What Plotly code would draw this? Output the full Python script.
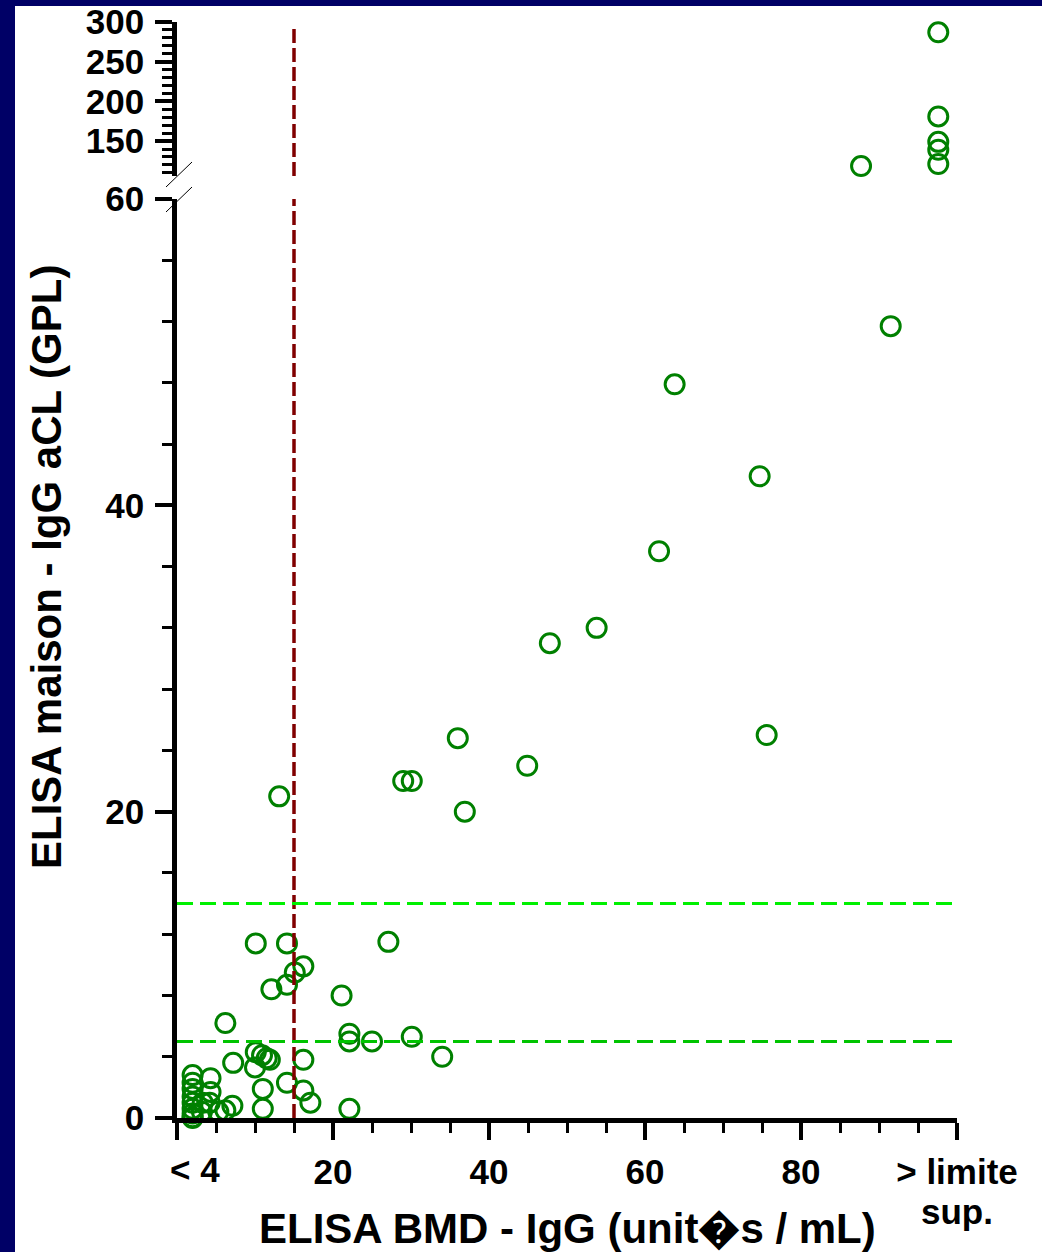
import plotly.graph_objects as go

# ---------------- data ----------------
low_x = [2, 2, 2, 2, 2, 2, 2, 2, 2, 3.3, 3.2, 4.3, 4.3, 4.2, 5.3, 6.2, 7.1,
         6.2, 7.2, 10.1, 10.9, 11.5, 11.9, 10.0, 11.0, 11.0, 14.1, 16.2, 16.2, 17.1,
         10.1, 14.1, 16.2, 15.1, 14.1, 12.1, 21.1,
         22.1, 22.1, 25.0, 30.1, 34.0, 22.1, 27.1,
         13.1, 29.0, 30.1, 36.0, 36.9, 44.9, 47.8, 53.8, 61.8, 63.8, 74.7, 75.6, 91.5]
low_y = [2.8, 2.3, 1.9, 1.4, 1.0, 0.6, 0.3, 0.05, 0.0, 1.0, 0.4, 2.6, 1.7, 1.0, 0.4, 0.5, 0.8,
         6.2, 3.6, 4.3, 4.1, 3.9, 3.8, 3.3, 1.9, 0.6, 2.3, 3.8, 1.8, 1.0,
         11.4, 11.4, 9.9, 9.5, 8.7, 8.4, 8.0,
         5.5, 5.0, 5.0, 5.3, 4.0, 0.6, 11.5,
         21.0, 22.0, 22.0, 24.8, 20.0, 23.0, 31.0, 32.0, 37.0, 47.9, 41.9, 25.0, 51.7]

high_x = [87.7, 97.6, 97.6, 97.6, 97.6, 97.6]
high_y = [118.5, 287, 181, 149, 139, 121]

x_tickvals = [0, 20, 40, 60, 80, 100]
x_ticktext = ["", "20", "40", "60", "80", "> limite"]
last_label_line2 = "sup."
low_tickvals = [0, 20, 40, 60]
high_tickvals = [150, 200, 250, 300]

cutoff_x = 15
cutoff_y = [14, 5]

x_title = "ELISA BMD - IgG (unit\ufffds / mL)"
y_title = "ELISA maison - IgG aCL (GPL)"
first_label = "< 4"

# ---------------- layout helpers ----------------
W, H = 1042, 1252
L, R, T, B = 177, 957, 22, 1118


def pxx(p):
    return (p - L) / (R - L)


def pxy(p):
    return (B - p) / (B - T)


FONT = "Liberation Sans, Arial, Helvetica, sans-serif"
NAVY = "#000066"
GREEN = "#008000"
DARKRED = "#800000"

fig = go.Figure()
marker = dict(symbol="circle-open", size=19, color=GREEN, line=dict(width=3, color=GREEN))
fig.add_trace(go.Scatter(x=low_x, y=low_y, mode="markers", marker=marker,
                         xaxis="x", yaxis="y", cliponaxis=False, showlegend=False))
fig.add_trace(go.Scatter(x=high_x, y=high_y, mode="markers", marker=marker,
                         xaxis="x", yaxis="y2", cliponaxis=False, showlegend=False))

axis_common = dict(showgrid=False, zeroline=False, showline=True, linecolor="black",
                   linewidth=4.5, ticks="outside", ticklen=17, tickwidth=3.5,
                   tickcolor="black", automargin=False,
                   tickfont=dict(family=FONT, size=35, color="black", weight="bold"))

shapes = []
# vertical cutoff (drawn per segment)
shapes.append(dict(type="line", xref="x", yref="y", x0=cutoff_x, x1=cutoff_x, y0=0, y1=60,
                   line=dict(color=DARKRED, width=3.5, dash="14px,5px")))
shapes.append(dict(type="line", xref="x", yref="y2", x0=cutoff_x, x1=cutoff_x, y0=106, y1=294,
                   line=dict(color=DARKRED, width=3.5, dash="14px,5px")))
# horizontal cutoffs
shapes.append(dict(type="line", xref="x", yref="y", x0=0, x1=100, y0=cutoff_y[0], y1=cutoff_y[0],
                   line=dict(color="#00F000", width=3, dash="16px,7px")))
shapes.append(dict(type="line", xref="x", yref="y", x0=0, x1=100, y0=cutoff_y[1], y1=cutoff_y[1],
                   line=dict(color="#00C400", width=3, dash="16px,7px")))
# break marks
for (x0, y0, x1, y1) in [(166, 187, 192, 162), (166, 212, 192, 187)]:
    shapes.append(dict(type="line", xref="paper", yref="paper",
                       x0=pxx(x0), y0=pxy(y0), x1=pxx(x1), y1=pxy(y1),
                       line=dict(color="black", width=1)))
# navy frame strips
shapes.append(dict(type="rect", xref="paper", yref="paper", x0=pxx(0), x1=pxx(15),
                   y0=pxy(H), y1=pxy(0), fillcolor=NAVY, line=dict(width=0)))
shapes.append(dict(type="rect", xref="paper", yref="paper", x0=pxx(0), x1=pxx(W),
                   y0=pxy(6), y1=pxy(0), fillcolor=NAVY, line=dict(width=0)))

annotations = [
    dict(text=y_title, xref="paper", yref="paper", x=pxx(46), y=pxy(567), textangle=-90,
         showarrow=False, xanchor="center", yanchor="middle",
         font=dict(family=FONT, size=42, color="black", weight="bold")),
    dict(text=x_title, xref="paper", yref="paper", x=pxx(567), y=pxy(1228),
         showarrow=False, xanchor="center", yanchor="middle",
         font=dict(family=FONT, size=42, color="black", weight="bold")),
    dict(text=first_label, xref="x", yref="paper", x=2.3, y=pxy(1170),
         showarrow=False, xanchor="center", yanchor="middle",
         font=dict(family=FONT, size=35, color="black", weight="bold")),
    dict(text=last_label_line2, xref="x", yref="paper", x=100, y=pxy(1211),
         showarrow=False, xanchor="center", yanchor="middle",
         font=dict(family=FONT, size=35, color="black", weight="bold")),
]

fig.update_layout(
    width=W, height=H,
    margin=dict(l=L, r=W - R, t=T, b=H - B, pad=0, autoexpand=False),
    paper_bgcolor="white", plot_bgcolor="white",
    showlegend=False,
    xaxis=dict(range=[0, 100], tickvals=x_tickvals, ticktext=x_ticktext,
               ticklabelstandoff=2,
               minor=dict(dtick=5, tick0=0, ticks="outside", ticklen=10, tickwidth=2.5,
                          tickcolor="black"),
               anchor="y", **axis_common),
    yaxis=dict(range=[0, 60], domain=[0, pxy(199)], tickvals=low_tickvals,
               ticklabelstandoff=4,
               minor=dict(dtick=4, tick0=0, ticks="outside", ticklen=10, tickwidth=2.5,
                          tickcolor="black"),
               anchor="x", **axis_common),
    yaxis2=dict(range=[106, 300], domain=[pxy(176), 1], tickvals=high_tickvals,
                ticklabelstandoff=4,
                minor=dict(dtick=10, tick0=0, ticks="outside", ticklen=10, tickwidth=2.5,
                           tickcolor="black"),
                anchor="x", **axis_common),
    shapes=shapes,
    annotations=annotations,
)

fig.write_html("out.html", config={"displayModeBar": False},
               post_script="document.body.style.margin='0';document.body.style.overflow='hidden';")
